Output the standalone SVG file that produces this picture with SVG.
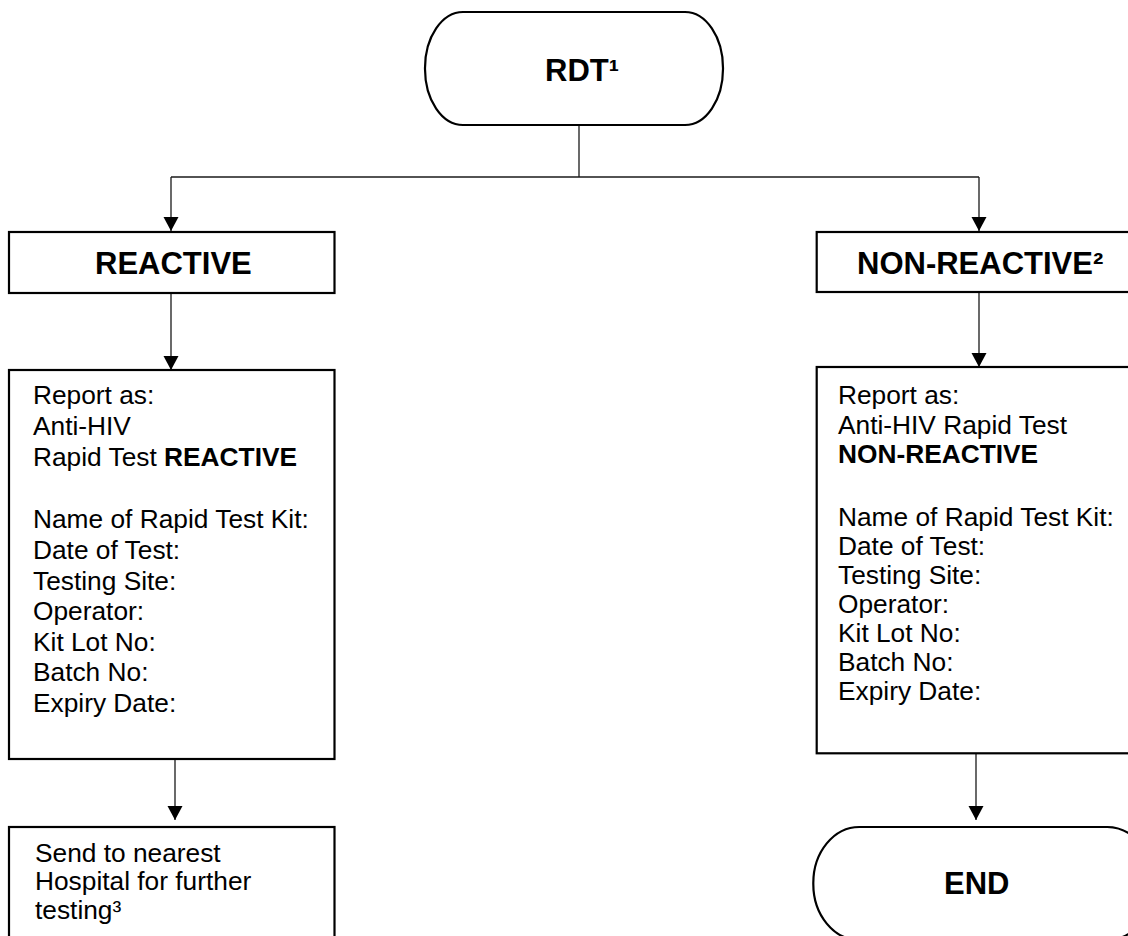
<svg xmlns="http://www.w3.org/2000/svg" width="1128" height="936" viewBox="0 0 1128 936">
  <defs>
    <marker id="arrow" markerUnits="userSpaceOnUse" markerWidth="15" markerHeight="16" refX="14" refY="8" orient="auto">
      <path d="M0,0.5 L14,8 L0,15.5 Z" fill="#000"/>
    </marker>
    <style>
      .box { fill: #fff; stroke: #000; stroke-width: 2.2; }
      .pill { fill: #fff; stroke: #000; stroke-width: 2.2; }
      .conn { fill: none; stroke: #1a1a1a; stroke-width: 1.3; }
      .head { font-family: "Liberation Sans", Arial, sans-serif; font-weight: bold; font-size: 31px; fill: #000; }
      .body { font-family: "Liberation Sans", Arial, sans-serif; font-size: 26.3px; fill: #000; }
      .b { font-weight: bold; }
    </style>
  </defs>

  <rect width="1128" height="936" fill="#fff"/>

  <!-- connectors -->
  <g id="connectors">
    <path class="conn" d="M579,125 V177"/>
    <path class="conn" d="M171,177 H979"/>
    <path class="conn" d="M171,177 V231" marker-end="url(#arrow)"/>
    <path class="conn" d="M979,177 V231" marker-end="url(#arrow)"/>
    <path class="conn" d="M171,293 V370" marker-end="url(#arrow)"/>
    <path class="conn" d="M979,292 V367" marker-end="url(#arrow)"/>
    <path class="conn" d="M175,759 V820" marker-end="url(#arrow)"/>
    <path class="conn" d="M976,753 V820" marker-end="url(#arrow)"/>
  </g>

  <!-- start terminator -->
  <g id="node-rdt">
    <rect class="pill" x="425" y="12" width="298" height="113" rx="38" ry="56"/>
    <text class="head" x="545" y="81">RDT¹</text>
  </g>

  <!-- result: reactive -->
  <g id="node-reactive">
    <rect class="box" x="9" y="232" width="325.5" height="61"/>
    <text class="head" x="95" y="273.5">REACTIVE</text>
  </g>

  <!-- result: non-reactive -->
  <g id="node-nonreactive">
    <rect class="box" x="816.7" y="232" width="330" height="60"/>
    <text class="head" x="857" y="274">NON-REACTIVE²</text>
  </g>

  <!-- report form, reactive -->
  <g id="node-report-reactive">
    <rect class="box" x="9" y="370" width="325.5" height="389"/>
    <text class="body" x="33">
      <tspan x="33" y="404">Report as:</tspan>
      <tspan x="33" y="435">Anti-HIV</tspan>
      <tspan x="33" y="466">Rapid Test <tspan class="b">REACTIVE</tspan></tspan>
      <tspan x="33" y="528">Name of Rapid Test Kit:</tspan>
      <tspan x="33" y="559">Date of Test:</tspan>
      <tspan x="33" y="590">Testing Site:</tspan>
      <tspan x="33" y="620">Operator:</tspan>
      <tspan x="33" y="651">Kit Lot No:</tspan>
      <tspan x="33" y="681">Batch No:</tspan>
      <tspan x="33" y="712">Expiry Date:</tspan>
    </text>
  </g>

  <!-- report form, non-reactive -->
  <g id="node-report-nonreactive">
    <rect class="box" x="816.7" y="367" width="330" height="386.3"/>
    <text class="body" x="838">
      <tspan x="838" y="404">Report as:</tspan>
      <tspan x="838" y="433.5">Anti-HIV Rapid Test</tspan>
      <tspan x="838" y="463" class="b">NON-REACTIVE</tspan>
      <tspan x="838" y="526">Name of Rapid Test Kit:</tspan>
      <tspan x="838" y="555">Date of Test:</tspan>
      <tspan x="838" y="584">Testing Site:</tspan>
      <tspan x="838" y="612.5">Operator:</tspan>
      <tspan x="838" y="641.5">Kit Lot No:</tspan>
      <tspan x="838" y="670.5">Batch No:</tspan>
      <tspan x="838" y="699.5">Expiry Date:</tspan>
    </text>
  </g>

  <!-- referral -->
  <g id="node-referral">
    <rect class="box" x="9" y="827" width="325.5" height="130"/>
    <text class="body">
      <tspan x="35" y="861.5">Send to nearest</tspan>
      <tspan x="35" y="890">Hospital for further</tspan>
      <tspan x="35" y="918.5">testing³</tspan>
    </text>
  </g>

  <!-- end terminator -->
  <g id="node-end">
    <rect class="pill" x="813.3" y="827" width="340" height="113" rx="46" ry="56"/>
    <text class="head" x="944" y="894">END</text>
  </g>
</svg>
